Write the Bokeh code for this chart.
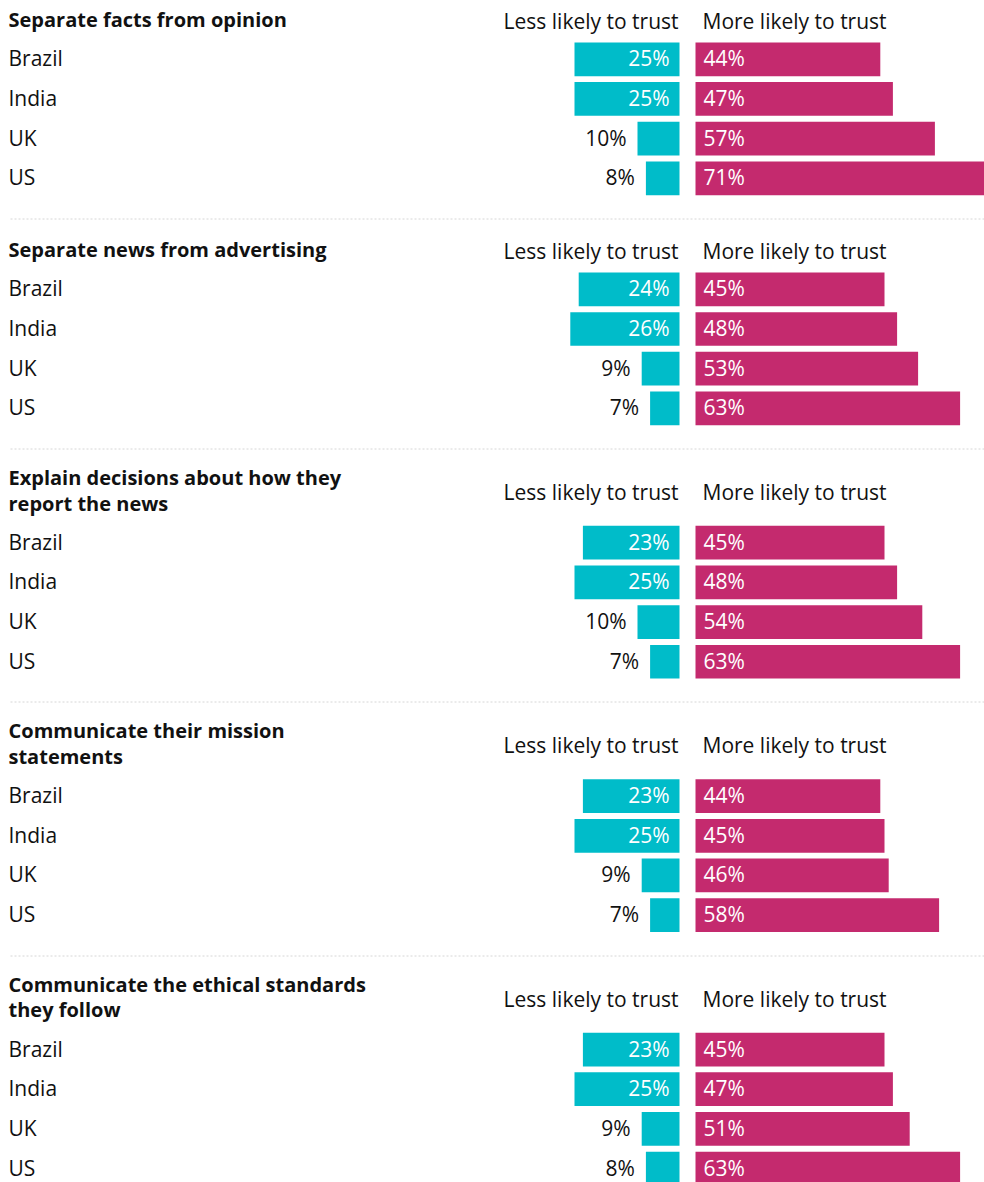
import numpy as np
from bokeh.plotting import figure
from bokeh.models import Range1d, ColumnDataSource
from bokeh.core.properties import value
from bokeh.embed import file_html
from bokeh.resources import INLINE

# ---------------- data ----------------
titles = [
    ["Separate facts from opinion"],
    ["Separate news from advertising"],
    ["Explain decisions about how they", "report the news"],
    ["Communicate their mission", "statements"],
    ["Communicate the ethical standards", "they follow"],
]
countries = ["Brazil", "India", "UK", "US"]
less_likely = [
    [25, 25, 10, 8],
    [24, 26, 9, 7],
    [23, 25, 10, 7],
    [23, 25, 9, 7],
    [23, 25, 9, 8],
]
more_likely = [
    [44, 47, 57, 71],
    [45, 48, 53, 63],
    [45, 48, 54, 63],
    [44, 45, 46, 58],
    [45, 47, 51, 63],
]
header_less = "Less likely to trust"
header_more = "More likely to trust"

# ---------------- layout / style ----------------
W, H = 984, 1182
PX = 4.2            # pixels per percentage point
AXIS_PX = 679       # pixel x of the zero line for the cyan bars
GAP_PX = 16         # gap between the two bar groups
FONT = "Open Sans"
FS = "21px"
FS_T = "20px"
CYAN = "#00bcc9"
MAGENTA = "#c42a6e"
INK = "#111111"
DY = -8             # text baseline correction

def px(xp):
    return (xp - AXIS_PX) / PX

GAP = GAP_PX / PX
ROW = 39.67
BAR_H = 33.7

p = figure(width=W, height=H, output_backend="svg", toolbar_location=None,
           x_range=Range1d(px(0), px(W)), y_range=Range1d(H, 0),
           min_border=0, outline_line_color=None, background_fill_color="white",
           border_fill_color="white")
p.axis.visible = False
p.grid.visible = False

bar_y, less_v, more_v = [], [], []
lab_x, lab_y, lab_t = [], [], []
inW_x, inW_y, inW_t, inW_al = [], [], [], []
out_x, out_y, out_t = [], [], []
ttl_x, ttl_y, ttl_t = [], [], []
hdr_y = []
sep_y = []

center = 58.8
for s in range(len(titles)):
    n = len(titles[s])
    if s > 0:
        center += 111 + 23.4 * (n - 1)
    for k, line in enumerate(titles[s]):
        ttl_x.append(px(8))
        ttl_y.append(center - 31.7 - 25.7 * (n - 1 - k) + DY)
        ttl_t.append(line)
    hdr_y.append(center - 30.5 - 12.5 * (n - 1) + DY)
    for i, c in enumerate(countries):
        yc = center + i * ROW
        lv = less_likely[s][i]
        mv = more_likely[s][i]
        bar_y.append(yc)
        less_v.append(lv)
        more_v.append(mv)
        ty = yc + 7 + DY
        lab_x.append(px(8)); lab_y.append(ty); lab_t.append(c)
        if lv >= 15:
            inW_x.append(px(AXIS_PX - 10)); inW_y.append(ty)
            inW_t.append(f"{lv}%"); inW_al.append("right")
        else:
            out_x.append(-lv - 11 / PX); out_y.append(ty); out_t.append(f"{lv}%")
        inW_x.append(GAP + 8 / PX); inW_y.append(ty)
        inW_t.append(f"{mv}%"); inW_al.append("left")
    last = center + 3 * ROW
    if s < len(titles) - 1:
        sep_y.append(round(last + 40) + 0.5)
    center = last

less_arr = np.array(less_v, dtype=float)
more_arr = np.array(more_v, dtype=float)

bars = ColumnDataSource(dict(y=bar_y, ll=-less_arr, lr=np.zeros_like(less_arr),
                             ml=np.full_like(more_arr, GAP), mr=GAP + more_arr))
p.hbar(y="y", left="ll", right="lr", height=BAR_H, source=bars,
       fill_color=CYAN, line_color=None)
p.hbar(y="y", left="ml", right="mr", height=BAR_H, source=bars,
       fill_color=MAGENTA, line_color=None)

# separators
p.segment(x0=[px(10)] * len(sep_y), x1=[px(W)] * len(sep_y), y0=sep_y, y1=sep_y,
          line_color="#d6d6d6", line_width=1, line_dash="2 2")

# titles
p.text(x=ttl_x, y=ttl_y, text=ttl_t, text_font=value(FONT), text_font_size=FS_T,
       text_font_style="bold", text_color=INK, text_align="left",
       text_baseline="alphabetic")
# headers
p.text(x=[px(678)] * len(hdr_y), y=hdr_y, text=[header_less] * len(hdr_y),
       text_font=value(FONT), text_font_size=FS, text_color=INK,
       text_align="right", text_baseline="alphabetic")
p.text(x=[px(702)] * len(hdr_y), y=hdr_y, text=[header_more] * len(hdr_y),
       text_font=value(FONT), text_font_size=FS, text_color=INK,
       text_align="left", text_baseline="alphabetic")
# country labels
p.text(x=lab_x, y=lab_y, text=lab_t, text_font=value(FONT), text_font_size=FS,
       text_color=INK, text_align="left", text_baseline="alphabetic")
# value labels inside bars
src_in = ColumnDataSource(dict(x=inW_x, y=inW_y, t=inW_t, al=inW_al))
p.text(x="x", y="y", text="t", text_align="al", source=src_in,
       text_font=value(FONT), text_font_size=FS, text_color="white",
       text_baseline="alphabetic")
# value labels outside bars
p.text(x=out_x, y=out_y, text=out_t, text_font=value(FONT), text_font_size=FS,
       text_color=INK, text_align="right", text_baseline="alphabetic")

open("out.html", "w").write(file_html(p, INLINE))
